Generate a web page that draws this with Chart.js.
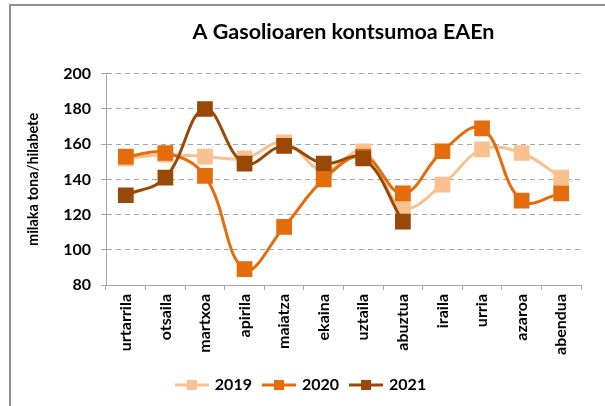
<!DOCTYPE html>
<html>
<head>
<meta charset="utf-8">
<script src="https://cdn.jsdelivr.net/npm/chart.js@4.4.1/dist/chart.umd.min.js"></script>
<style>
  html, body { margin: 0; padding: 0; background: #fff; overflow: hidden; }
  #wrap { position: relative; width: 605px; height: 406px; overflow: hidden; }
  #frame { position: absolute; left: 9px; top: 4px; width: 700px; height: 500px;
           border-top: 2px solid #8f8f8f; border-left: 2px solid #8f8f8f; }
  #myChart { position: absolute; left: 0; top: 0; }
</style>
</head>
<body>
<div id="wrap">
  <div id="frame"></div>
  <canvas id="myChart" width="605" height="406"></canvas>
</div>
<script>
// months (Basque)
var months = ['urtarrila', 'otsaila', 'martxoa', 'apirila', 'maiatza', 'ekaina',
              'uztaila', 'abuztua', 'iraila', 'urria', 'azaroa', 'abendua'];

// milaka tona / hilabete
var data2019 = [152, 154, 153, 152, 161, 145, 156, 124, 137, 157, 155, 141];
var data2020 = [153, 155, 142, 89, 113, 140, 153, 132, 156, 169, 128, 132];
var data2021 = [131, 141, 180, 149, 159, 149, 152, 116];

var yTicks = [80, 100, 120, 140, 160, 180, 200];

var c2019 = '#fac090';
var c2020 = '#e46c0a';
var c2021 = '#984807';

// little "line + square" icon for the legend
function legendIcon(color) {
    var cv = document.createElement('canvas');
    cv.width = 34;
    cv.height = 14;
    var g = cv.getContext('2d');
    g.strokeStyle = color;
    g.lineWidth = 3;
    g.beginPath();
    g.moveTo(0, 7);
    g.lineTo(34, 7);
    g.stroke();
    g.fillStyle = color;
    g.fillRect(12, 2, 10, 10);
    return cv;
}

function serie(label, values, color, order) {
    return {
        label: label,
        data: values,
        borderColor: color,
        backgroundColor: color,
        pointBackgroundColor: color,
        pointBorderColor: color,
        pointStyle: 'rect',
        pointRadius: 9,
        pointHoverRadius: 9,
        borderWidth: 3,
        tension: 0.4,
        fill: false,
        order: order,
        legendIcon: legendIcon(color)
    };
}

var ctx = document.getElementById('myChart').getContext('2d');
var chart = new Chart(ctx, {
    type: 'line',
    data: {
        labels: months,
        datasets: [
            serie('2019', data2019, c2019, 3),
            serie('2020', data2020, c2020, 2),
            serie('2021', data2021, c2021, 1)
        ]
    },
    options: {
        responsive: false,
        animation: false,
        layout: { padding: { left: 22, right: 24, top: 0, bottom: 3 } },
        font: { family: 'Lato' },
        plugins: {
            title: {
                display: true,
                fullSize: false,
                text: 'A Gasolioaren kontsumoa EAEn',
                color: '#000',
                font: { family: 'Lato', size: 21.5, weight: 'bold' },
                padding: { top: 19, bottom: 29 }
            },
            legend: {
                position: 'bottom',
                labels: {
                    usePointStyle: true,
                    pointStyleWidth: 30,
                    padding: 12,
                    color: '#000',
                    font: { family: 'Lato', size: 16, weight: 'bold' },
                    generateLabels: function(ch) {
                        return ch.data.datasets.map(function(ds, i) {
                            return {
                                text: ds.label,
                                pointStyle: ds.legendIcon,
                                fillStyle: ds.borderColor,
                                strokeStyle: ds.borderColor,
                                lineWidth: 0,
                                hidden: !ch.isDatasetVisible(i),
                                datasetIndex: i
                            };
                        });
                    }
                }
            },
            tooltip: { enabled: false }
        },
        scales: {
            x: {
                offset: true,
                afterFit: function(scale) { scale.height = 80; },
                grid: {
                    offset: true,
                    drawOnChartArea: false,
                    drawTicks: true,
                    tickLength: 5,
                    color: '#a6a6a6'
                },
                border: { color: '#a6a6a6', width: 1 },
                ticks: {
                    minRotation: 90,
                    maxRotation: 90,
                    autoSkip: false,
                    padding: 4,
                    color: '#000',
                    font: { family: 'Lato', size: 16, weight: 'bold' }
                }
            },
            y: {
                min: 80,
                max: 200,
                afterFit: function(scale) { scale.width = 84; },
                afterBuildTicks: function(scale) {
                    scale.ticks = yTicks.map(function(v) { return { value: v }; });
                },
                title: {
                    display: true,
                    text: 'milaka tona/hilabete',
                    color: '#000',
                    font: { family: 'Lato', size: 14.5, weight: 'bold' },
                    padding: 3
                },
                grid: {
                    color: '#a6a6a6',
                    tickLength: 5,
                    tickColor: '#a6a6a6',
                    tickBorderDash: []
                },
                border: { color: '#a6a6a6', width: 1, dash: [5, 4] },
                ticks: {
                    padding: 10,
                    color: '#000',
                    font: { family: 'Lato', size: 16, weight: 'bold' }
                }
            }
        }
    }
});
</script>
</body>
</html>
